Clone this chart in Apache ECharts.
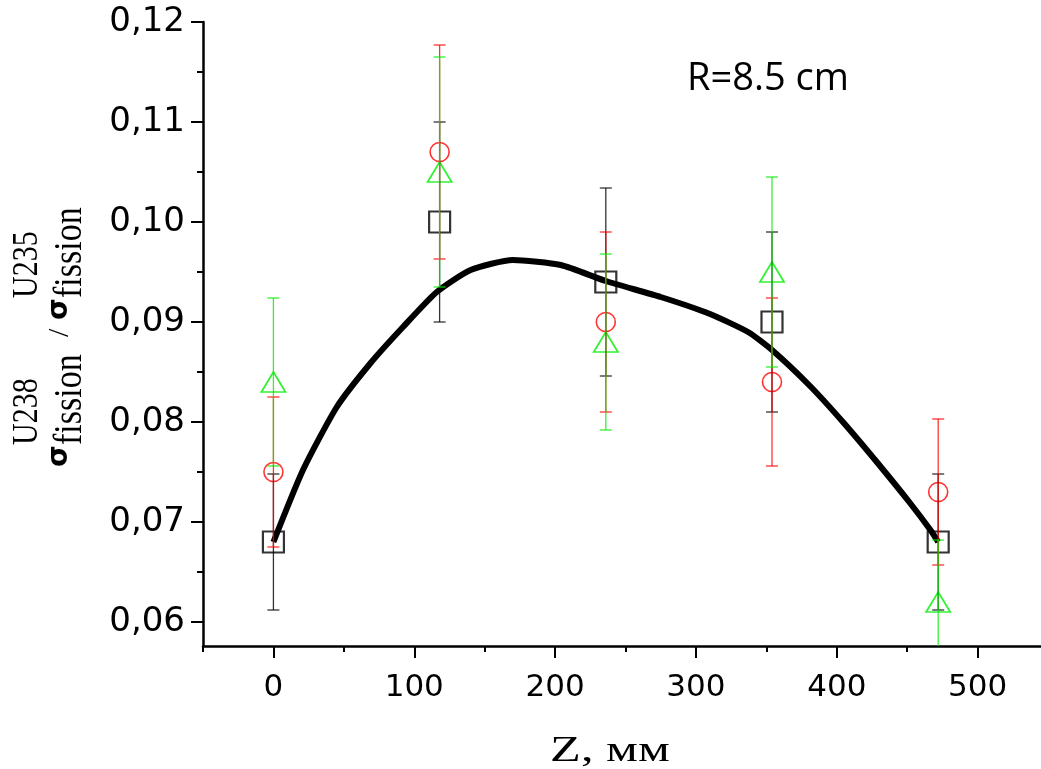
<!DOCTYPE html>
<html>
<head>
    <meta charset="UTF-8">
    <title>index.html</title>
    <script src="https://cdn.jsdelivr.net/npm/echarts@6/dist/echarts.min.js"></script>
</head>
<body style="margin:0;background:#fff;">
<div id="chart" style="width: 1041px;height:769px;"></div>
<script>
    // положения по Z, мм
    var zPos = [0, 118, 236, 354, 472];
    // квадраты (черные)
    var sqVal = [0.068, 0.100, 0.094, 0.090, 0.068];
    var sqErr = [0.0068, 0.0100, 0.0094, 0.0090, 0.0068];
    // кружки (красные)
    var ciVal = [0.075, 0.107, 0.090, 0.084, 0.073];
    var ciErr = [0.0075, 0.0107, 0.0090, 0.0084, 0.0073];
    // треугольники (зеленые)
    var trVal = [0.084, 0.105, 0.088, 0.095, 0.062];
    var trErr = [0.0084, 0.0115, 0.0088, 0.0095, 0.0062];
    // сглаживающая кривая
    var fitZ = [0, 21, 45, 69, 92, 116, 140, 170, 204, 236, 275, 310, 337, 354, 381, 405, 429, 452, 467, 472];
    var fitVal = [0.068, 0.0752, 0.0815, 0.0859, 0.0895, 0.0930, 0.0952, 0.0962, 0.0957, 0.0941, 0.0925, 0.0908,
        0.0890, 0.0872, 0.0836, 0.0799, 0.0759, 0.0719, 0.0691, 0.068];
    // метки осей
    var xMajor = [0, 100, 200, 300, 400, 500];
    var xMinor = [-50, 50, 150, 250, 350, 450];
    var yMajor = [0.06, 0.07, 0.08, 0.09, 0.10, 0.11, 0.12];
    var yMinor = [0.065, 0.075, 0.085, 0.095, 0.105, 0.115];

    function pts(vals) {
        return zPos.map(function (z, i) { return [z, vals[i]]; });
    }
    function bars(vals, errs) {
        return zPos.map(function (z, i) { return [z, vals[i] - errs[i], vals[i] + errs[i]]; });
    }
    function errRender(color) {
        return function (params, api) {
            var x = api.value(0);
            var top = api.coord([x, api.value(2)]);
            var bot = api.coord([x, api.value(1)]);
            var w = 6;
            var st = {stroke: color, lineWidth: 1.3, opacity: 0.8};
            return {
                type: 'group',
                children: [
                    {type: 'line', shape: {x1: top[0], y1: top[1], x2: bot[0], y2: bot[1]}, style: st},
                    {type: 'line', shape: {x1: top[0] - w, y1: top[1], x2: top[0] + w, y2: top[1]}, style: st},
                    {type: 'line', shape: {x1: bot[0] - w, y1: bot[1], x2: bot[0] + w, y2: bot[1]}, style: st}
                ]
            };
        };
    }

    var chart = echarts.init(document.getElementById('chart'));
    var axisX = {
        type: 'value', min: -50, max: 545, splitLine: {show: false}
    };
    var option = {
        animation: false,
        grid: {left: 203, right: 0, top: 22, bottom: 123},
        xAxis: [
            Object.assign({}, axisX, {
                axisLine: {onZero: false, lineStyle: {color: '#000', width: 2.5}},
                axisTick: {customValues: xMajor, length: 12, lineStyle: {color: '#000', width: 2}},
                axisLabel: {customValues: xMajor, color: '#000', fontSize: 31, fontFamily: 'DejaVu Sans', margin: 26}
            }),
            Object.assign({}, axisX, {
                position: 'bottom',
                axisLine: {show: false, onZero: false},
                axisTick: {customValues: xMinor, length: 6, lineStyle: {color: '#000', width: 2}},
                axisLabel: {show: false}
            })
        ],
        yAxis: [
            {
                type: 'value', min: 0.0576, max: 0.12, splitLine: {show: false},
                axisLine: {show: true, onZero: false, lineStyle: {color: '#000', width: 2.5}},
                axisTick: {show: true, customValues: yMajor, length: 12, lineStyle: {color: '#000', width: 2}},
                axisLabel: {
                    customValues: yMajor, color: '#000', fontSize: 34, fontFamily: 'DejaVu Sans', margin: 18,
                    formatter: function (v) { return v.toFixed(2).replace('.', ','); }
                }
            },
            {
                type: 'value', min: 0.0576, max: 0.12, position: 'left', splitLine: {show: false},
                axisLine: {show: false, onZero: false},
                axisTick: {show: true, customValues: yMinor, length: 6, lineStyle: {color: '#000', width: 2}},
                axisLabel: {show: false}
            }
        ],
        series: [
            {
                type: 'line', data: fitZ.map(function (z, i) { return [z, fitVal[i]]; }),
                smooth: 0.2, showSymbol: false, lineStyle: {color: '#000', width: 6, join: 'round'}, z: 1
            },
            {type: 'custom', data: bars(sqVal, sqErr), renderItem: errRender('#000'), clip: true, z: 3},
            {type: 'custom', data: bars(ciVal, ciErr), renderItem: errRender('#ff0000'), clip: true, z: 3},
            {type: 'custom', data: bars(trVal, trErr), renderItem: errRender('#00ee00'), clip: true, z: 3},
            {
                type: 'scatter', data: pts(sqVal), symbol: 'rect', symbolSize: 21, z: 2,
                itemStyle: {color: 'rgba(0,0,0,0)', borderColor: '#000', borderWidth: 2.2}
            },
            {
                type: 'scatter', data: pts(ciVal), symbol: 'circle', symbolSize: 19, z: 2,
                itemStyle: {color: 'rgba(0,0,0,0)', borderColor: '#ff0000', borderWidth: 1.6}
            },
            {
                type: 'scatter', data: pts(trVal), symbol: 'triangle', symbolSize: [24, 20], z: 2,
                itemStyle: {color: 'rgba(0,0,0,0)', borderColor: '#00ee00', borderWidth: 1.8}
            }
        ],
        graphic: [
            {type: 'text', left: 687, top: 60, style: {text: 'R=8.5 cm', font: '38px "Open Sans"', fill: '#000'}},
            {type: 'text', x: 610, y: 752, scaleX: 1.4, style: {
                text: 'Z, мм', font: '36px "Liberation Serif"', fill: '#000', align: 'center', verticalAlign: 'middle'}},
            // подпись оси Y, читается снизу вверх
            {type: 'text', x: 60, y: 467, rotation: Math.PI / 2, style: {
                text: 'σ', font: 'bold 28px "DejaVu Sans"', fill: '#000', align: 'left', verticalAlign: 'middle'}},
            {type: 'text', x: 28, y: 445, rotation: Math.PI / 2, scaleY: 1.2, style: {
                text: 'U238', font: '30px "Liberation Serif"', fill: '#000', align: 'left', verticalAlign: 'middle'}},
            {type: 'text', x: 70, y: 445, rotation: Math.PI / 2, scaleY: 1.2, style: {
                text: 'fission', font: '34px "Liberation Serif"', fill: '#000', align: 'left', verticalAlign: 'middle'}},
            {type: 'text', x: 60, y: 337, rotation: Math.PI / 2, style: {
                text: '/', font: '30px "Liberation Serif"', fill: '#000', align: 'left', verticalAlign: 'middle'}},
            {type: 'text', x: 60, y: 320, rotation: Math.PI / 2, style: {
                text: 'σ', font: 'bold 28px "DejaVu Sans"', fill: '#000', align: 'left', verticalAlign: 'middle'}},
            {type: 'text', x: 28, y: 298, rotation: Math.PI / 2, scaleY: 1.2, style: {
                text: 'U235', font: '30px "Liberation Serif"', fill: '#000', align: 'left', verticalAlign: 'middle'}},
            {type: 'text', x: 70, y: 298, rotation: Math.PI / 2, scaleY: 1.2, style: {
                text: 'fission', font: '34px "Liberation Serif"', fill: '#000', align: 'left', verticalAlign: 'middle'}}
        ]
    };
    chart.setOption(option);
</script>
</body>
</html>
